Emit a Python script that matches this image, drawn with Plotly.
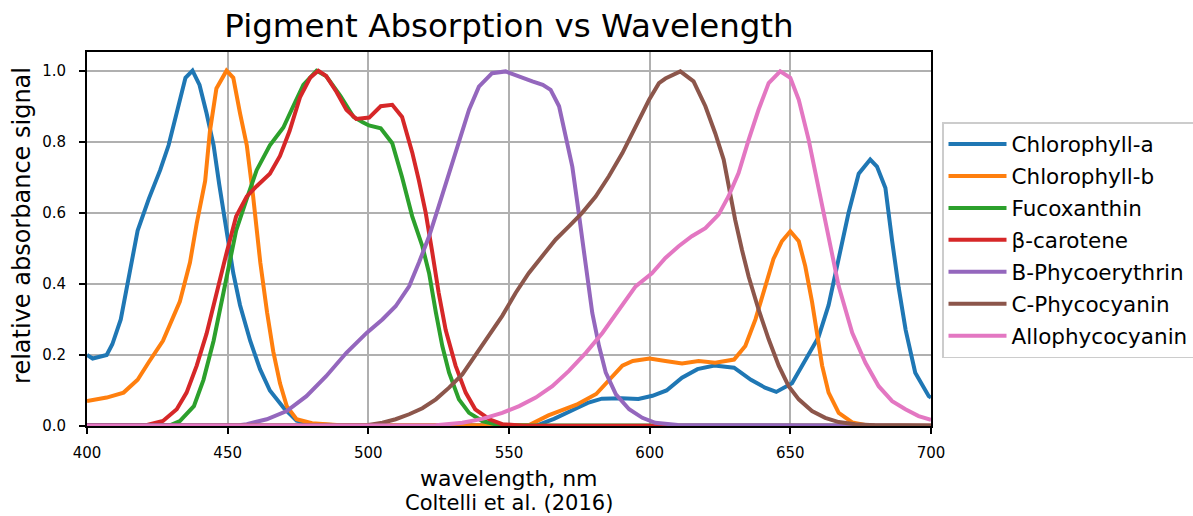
import plotly.graph_objects as go

# ---- data ----
chla_wl = [400, 402, 407, 409, 412, 415, 418, 422, 426, 429, 432, 435, 437.5, 440, 442.5, 445, 447, 449.6, 452, 454.4,
           458, 461.5, 465, 470, 474.5, 480, 490, 560, 566, 574, 578, 583, 590, 596, 601, 606, 611.5, 617, 623, 630,
           636, 641, 645, 650.6, 655, 660, 663.6, 667, 670.7, 674.3, 678.4, 680.8, 683.8, 686.2, 688.5, 691, 694.4, 699.2, 700]
chla_val = [0.2, 0.19, 0.2, 0.23, 0.30, 0.43, 0.55, 0.64, 0.72, 0.79, 0.89, 0.98, 1.0, 0.96, 0.88, 0.79, 0.68, 0.55, 0.43, 0.34,
            0.24, 0.16, 0.10, 0.05, 0.015, 0.005, 0.002, 0.002, 0.02, 0.05, 0.065, 0.077, 0.078, 0.076, 0.085, 0.10, 0.136, 0.16, 0.17, 0.164,
            0.13, 0.108, 0.096, 0.12, 0.18, 0.25, 0.34, 0.46, 0.60, 0.71, 0.75, 0.73, 0.67, 0.52, 0.39, 0.27, 0.15, 0.084, 0.08]

chlb_wl = [400, 407, 413, 418, 422, 427, 433, 436.6, 439, 442, 443.7, 446, 449.6, 452, 454.4, 456.8, 459, 461.6, 464, 466.2,
           468.6, 471, 474.5, 480, 490, 557, 564, 574, 581, 585.5, 590.3, 594, 600, 605.6, 611.5, 617.4, 623.3, 630, 634, 637.6,
           641, 644, 647, 650, 653, 655.3, 657.7, 659.5, 661.3, 663.6, 667.2, 672, 677, 700]
chlb_val = [0.07, 0.08, 0.094, 0.13, 0.18, 0.24, 0.35, 0.46, 0.57, 0.69, 0.83, 0.95, 1.0, 0.98, 0.88, 0.79, 0.65, 0.46, 0.32, 0.21,
            0.12, 0.056, 0.019, 0.008, 0.002, 0.002, 0.03, 0.06, 0.09, 0.13, 0.17, 0.183, 0.19, 0.183, 0.176, 0.183, 0.178, 0.187, 0.225, 0.30,
            0.39, 0.47, 0.52, 0.548, 0.52, 0.45, 0.35, 0.26, 0.17, 0.094, 0.037, 0.01, 0.002, 0.001]

fuco_wl = [400, 429.5, 433, 438, 441.4, 445, 448.5, 450.8, 453, 456.8, 460.3, 465, 469.8, 473.3, 476.9, 481.6, 485, 490, 494.7, 498,
           500.2, 504.4, 508.5, 512, 515.6, 519.2, 521.6, 524, 526.3, 528.7, 532.2, 535.8, 540.5, 545, 550, 700]
fuco_val = [0.002, 0.002, 0.014, 0.056, 0.13, 0.24, 0.375, 0.47, 0.55, 0.64, 0.72, 0.79, 0.84, 0.90, 0.96, 1.0, 0.985, 0.93, 0.87, 0.855,
            0.846, 0.838, 0.796, 0.70, 0.59, 0.506, 0.43, 0.32, 0.225, 0.15, 0.075, 0.037, 0.014, 0.005, 0.002, 0.001]

bcar_wl = [400, 421, 427, 431.9, 435.4, 439, 442.5, 446, 449.6, 453, 456.8, 460.3, 465, 468.6, 472, 475.7, 479.3, 482.2, 485, 488.7,
           492.2, 495.7, 500.3, 504.4, 508.5, 512, 515.6, 518, 520.4, 522.7, 525, 527.5, 531, 534.6, 538, 543, 547.6, 555, 700]
bcar_val = [0.002, 0.002, 0.014, 0.047, 0.094, 0.17, 0.26, 0.375, 0.487, 0.59, 0.646, 0.675, 0.71, 0.76, 0.83, 0.925, 0.98, 1.0, 0.985, 0.94,
            0.89, 0.864, 0.868, 0.9, 0.904, 0.87, 0.77, 0.69, 0.60, 0.49, 0.375, 0.27, 0.17, 0.094, 0.047, 0.019, 0.005, 0.001, 0.001]

bpe_wl = [400, 454, 456.8, 463.9, 471, 478, 485, 492.2, 499.4, 505, 509.7, 514.5, 518, 521.6, 525, 528.7, 532.2, 535.8, 539.3, 544,
          548.8, 553.6, 558.3, 562, 564.8, 567.8, 570, 572.5, 574.3, 576, 577.8, 579.6, 582, 584.4, 588, 592.7, 597.4, 602, 610, 700]
bpe_val = [0.002, 0.002, 0.005, 0.019, 0.042, 0.084, 0.14, 0.206, 0.262, 0.30, 0.337, 0.393, 0.46, 0.534, 0.618, 0.712, 0.806, 0.89, 0.955, 0.993,
           0.998, 0.983, 0.97, 0.96, 0.946, 0.9, 0.824, 0.73, 0.628, 0.525, 0.42, 0.318, 0.225, 0.15, 0.089, 0.047, 0.023, 0.009, 0.003, 0.001]

cpc_wl = [400, 495, 500, 505, 509.7, 514.5, 519.2, 524, 528.7, 533.4, 538, 542.9, 547.6, 552.4, 557, 561.8, 566.6, 571.3, 576, 580.8,
          585.5, 590.3, 595, 599.8, 603.3, 605.6, 610.9, 615.6, 619.8, 623.3, 626.3, 628, 630.4, 632.8, 635.2, 638.7, 642.3, 645.9, 649.4, 653,
          657.7, 662.4, 667.2, 673, 680, 700]
cpc_val = [0.001, 0.001, 0.003, 0.009, 0.019, 0.033, 0.05, 0.075, 0.108, 0.145, 0.197, 0.253, 0.31, 0.375, 0.43, 0.478, 0.525, 0.562, 0.60, 0.646,
           0.703, 0.768, 0.843, 0.918, 0.965, 0.978, 0.998, 0.97, 0.9, 0.824, 0.75, 0.674, 0.58, 0.496, 0.42, 0.328, 0.244, 0.169, 0.112, 0.075,
           0.042, 0.023, 0.011, 0.005, 0.002, 0.001]

apc_wl = [400, 524, 533.4, 540.5, 547.6, 553.6, 559.5, 565.4, 571.3, 577.3, 583.2, 589, 595, 600.8, 605.6, 610.3, 615, 619.8, 624.5, 628,
          631.6, 635.2, 638.7, 642.3, 646.4, 650, 653, 656.5, 660, 663.6, 667.2, 672, 676.7, 681.4, 686.2, 690.9, 695.6, 700]
apc_val = [0.001, 0.002, 0.009, 0.02, 0.037, 0.056, 0.08, 0.112, 0.155, 0.206, 0.262, 0.328, 0.393, 0.43, 0.473, 0.506, 0.534, 0.557, 0.595, 0.646,
           0.712, 0.806, 0.89, 0.965, 0.998, 0.98, 0.918, 0.806, 0.674, 0.525, 0.393, 0.262, 0.178, 0.112, 0.07, 0.047, 0.028, 0.017]

names = ["Chlorophyll-a", "Chlorophyll-b", "Fucoxanthin", "β-carotene", "B-Phycoerythrin", "C-Phycocyanin", "Allophycocyanin"]
series_wl = [chla_wl, chlb_wl, fuco_wl, bcar_wl, bpe_wl, cpc_wl, apc_wl]
series_val = [chla_val, chlb_val, fuco_val, bcar_val, bpe_val, cpc_val, apc_val]
colors = ["#1f77b4", "#ff7f0e", "#2ca02c", "#d62728", "#9467bd", "#8c564b", "#e377c2"]

x_ticks = [400, 450, 500, 550, 600, 650, 700]
y_ticks = [0.0, 0.2, 0.4, 0.6, 0.8, 1.0]

title_text = "Pigment Absorption vs Wavelength"
xlabel_lines = ["wavelength, nm", "Coltelli et al. (2016)"]
ylabel_text = "relative absorbance signal"

FONT = "DejaVu Sans"

fig = go.Figure()
for n, wl, v, c in zip(names, series_wl, series_val, colors):
    fig.add_trace(go.Scatter(x=wl, y=v, mode="lines", name=n, legendgroup=n,
                             line=dict(color=c, width=4)))

axis_common = dict(showline=True, linecolor="black", linewidth=2, mirror=True,
                   ticks="outside", ticklen=6, tickwidth=2, tickcolor="black",
                   showgrid=True, gridcolor="#b0b0b0", gridwidth=2, zeroline=False,
                   automargin=False,
                   tickfont=dict(family=FONT, size=15, color="black"))

fig.update_layout(
    width=1193, height=516,
    margin=dict(l=87, r=262, t=52, b=90, autoexpand=False),
    paper_bgcolor="white", plot_bgcolor="white",
    font=dict(family=FONT, color="black"),
    title=dict(text=title_text, x=0.5, xref="paper", y=0.95, yref="container",
               xanchor="center", yanchor="middle", font=dict(family=FONT, size=32.5, color="black")),
    xaxis=dict(range=[400, 700], tickvals=x_ticks, ticktext=[str(t) for t in x_ticks],
               ticklabelstandoff=6, **axis_common),
    yaxis=dict(range=[0, 1.0526], tickvals=y_ticks, tickformat=".1f",
               ticklabelstandoff=10, **axis_common),
    legend=dict(x=942 / 1193, y=1 - 122 / 516, xref="container", yref="container",
                xanchor="left", yanchor="top",
                bordercolor="#cccccc", borderwidth=1.5, bgcolor="white", itemwidth=58,
                font=dict(family=FONT, size=21.5, color="black"), tracegroupgap=1),
    showlegend=True,
)

# axis titles placed as annotations (matplotlib-style positions)
fig.add_annotation(text=xlabel_lines[0], x=0.5, xref="paper", y=-(478 - 426) / 374, yref="paper",
                   xanchor="center", yanchor="middle", showarrow=False,
                   font=dict(family=FONT, size=22, color="black"))
fig.add_annotation(text=xlabel_lines[1], x=0.5, xref="paper", y=-(503 - 426) / 374, yref="paper",
                   xanchor="center", yanchor="middle", showarrow=False,
                   font=dict(family=FONT, size=21, color="black"))
fig.add_annotation(text=ylabel_text, x=-0.077, xref="paper", y=0.535, yref="paper",
                   xanchor="center", yanchor="middle", showarrow=False, textangle=-90,
                   font=dict(family=FONT, size=24, color="black"))

fig.write_html("out.html")
